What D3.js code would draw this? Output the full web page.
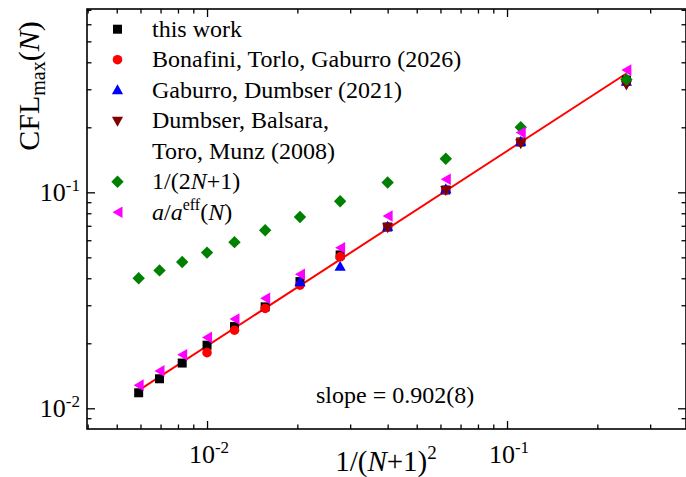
<!DOCTYPE html>
<html>
<head>
<meta charset="utf-8">
<script src="https://cdn.jsdelivr.net/npm/d3@7"></script>
<style>
  body { margin: 0; background: #fff; }
  svg { display: block; font-family: "Liberation Serif", "Times New Roman", serif; }
</style>
</head>
<body>
<svg id="chart" width="686" height="477"></svg>
<script>
// polynomial degree N, x axis is 1/(N+1)^2
var N = [1, 2, 3, 4, 5, 6, 7, 8, 9, 10, 11, 12];

// CFL_max values
var thisWork = [0.331, 0.171, 0.1025, 0.0691, 0.0513, 0.0386, 0.0295, 0.0239, 0.0196, 0.0162, 0.0137, 0.0118];
var bonafini = [0.324, 0.171, 0.1025, 0.0691, 0.0503, 0.0372, 0.0290, 0.0230, 0.0181];
var gaburro = [0.325, 0.1715, 0.1032, 0.0693, 0.0452, 0.0383];
var dumbser = [0.316, 0.1686, 0.1025, 0.0689];
var inv2N1 = [0.333, 0.2, 0.143, 0.111, 0.0909, 0.0769, 0.0667, 0.0588, 0.0526, 0.0476, 0.0435, 0.04];
var aEff = [0.368, 0.189, 0.115, 0.0777, 0.0554, 0.0417, 0.0323, 0.0259, 0.0213, 0.0177, 0.0149, 0.0128];

// fitted power law, end points
var fitX = [1 / 169, 1 / 4];
var fitY = [0.0121, 0.355];

// ticks
var xMajor = [0.01, 0.1];
var xMajorExp = ["-2", "-1"];
var xMinor = [0.004, 0.005, 0.006, 0.007, 0.008, 0.009, 0.02, 0.03, 0.04, 0.05, 0.06, 0.07, 0.08, 0.09, 0.2, 0.3];
var yMajor = [0.01, 0.1];
var yMajorExp = ["-2", "-1"];
var yMinor = [0.009, 0.02, 0.03, 0.04, 0.05, 0.06, 0.07, 0.08, 0.09, 0.2, 0.3, 0.4, 0.5, 0.6, 0.7];

// plot box (window.top is taken, so no plain "top")
var pLeft = 87, pRight = 686, pTop = 9, pBottom = 429;

var svg = d3.select("#chart");

var x = d3.scaleLog().domain([0.00398, 0.395]).range([pLeft, pRight]);
var y = d3.scaleLog().domain([0.00802, 0.706]).range([pBottom, pTop]);

// marker shapes
var shapes = {
    square: "M-4.5,-4.5h9v9h-9Z",
    circle: "M-4.8,0a4.8,4.8 0 1,0 9.6,0a4.8,4.8 0 1,0 -9.6,0Z",
    up: "M0,-6L5.6,4L-5.6,4Z",
    down: "M0,6L5.6,-4L-5.6,-4Z",
    diamond: "M0,-6.2L6.2,0L0,6.2L-6.2,0Z",
    leftTri: "M-5,0L5,-5.8L5,5.8Z"
};

var series = [
    { values: thisWork, shape: "square", color: "#000000" },
    { values: bonafini, shape: "circle", color: "#ff0000" },
    { values: gaburro, shape: "up", color: "#0000ff" },
    { values: dumbser, shape: "down", color: "#800000" },
    { values: inv2N1, shape: "diamond", color: "#008000" },
    { values: aEff, shape: "leftTri", color: "#ff00ff" }
];

// axes, ticks pointing inward on all four sides
function drawTicks(axis, tx, ty) {
    svg.append("g")
        .attr("transform", "translate(" + tx + "," + ty + ")")
        .call(axis)
        .call(function (g) {
            g.select(".domain").remove();
            g.selectAll("line").attr("stroke", "#000").attr("stroke-width", 1.3);
        });
}
drawTicks(d3.axisBottom(x).tickValues(xMajor).tickFormat("").tickSize(-8).tickSizeOuter(0), 0, pBottom);
drawTicks(d3.axisBottom(x).tickValues(xMinor).tickFormat("").tickSize(-4.5).tickSizeOuter(0), 0, pBottom);
drawTicks(d3.axisTop(x).tickValues(xMajor).tickFormat("").tickSize(-8).tickSizeOuter(0), 0, pTop);
drawTicks(d3.axisTop(x).tickValues(xMinor).tickFormat("").tickSize(-4.5).tickSizeOuter(0), 0, pTop);
drawTicks(d3.axisLeft(y).tickValues(yMajor).tickFormat("").tickSize(-8).tickSizeOuter(0), pLeft, 0);
drawTicks(d3.axisLeft(y).tickValues(yMinor).tickFormat("").tickSize(-4.5).tickSizeOuter(0), pLeft, 0);
drawTicks(d3.axisRight(y).tickValues(yMajor).tickFormat("").tickSize(-8).tickSizeOuter(0), pRight, 0);
drawTicks(d3.axisRight(y).tickValues(yMinor).tickFormat("").tickSize(-4.5).tickSizeOuter(0), pRight, 0);

// frame
svg.append("rect")
    .attr("x", pLeft).attr("y", pTop)
    .attr("width", pRight - pLeft).attr("height", pBottom - pTop)
    .attr("fill", "none").attr("stroke", "#000").attr("stroke-width", 1.6);

// tick labels 10^k
xMajor.forEach(function (v, i) {
    var t = svg.append("text")
        .attr("x", x(v) + 2).attr("y", pBottom + 34)
        .attr("text-anchor", "middle")
        .attr("font-size", 26);
    t.append("tspan").text("10");
    t.append("tspan").attr("font-size", 17).attr("dy", -10).text(xMajorExp[i]);
});
yMajor.forEach(function (v, i) {
    var t = svg.append("text")
        .attr("x", pLeft - 7).attr("y", y(v) + 9)
        .attr("text-anchor", "end")
        .attr("font-size", 26);
    t.append("tspan").text("10");
    t.append("tspan").attr("font-size", 17).attr("dy", -10).text(yMajorExp[i]);
});

// axis titles
var xt = svg.append("text")
    .attr("x", 386).attr("y", 471)
    .attr("text-anchor", "middle")
    .attr("font-size", 29);
xt.append("tspan").text("1/(");
xt.append("tspan").attr("font-style", "italic").text("N");
xt.append("tspan").text("+1)");
xt.append("tspan").attr("font-size", 19).attr("dy", -12).text("2");

var yt = svg.append("text")
    .attr("transform", "translate(39,86) rotate(-90)")
    .attr("text-anchor", "middle")
    .attr("font-size", 30);
yt.append("tspan").text("CFL");
yt.append("tspan").attr("font-size", 20).attr("dy", 6).text("max");
yt.append("tspan").attr("dy", -6).text("(");
yt.append("tspan").attr("font-style", "italic").text("N");
yt.append("tspan").text(")");

// fit line
svg.append("path")
    .datum(d3.zip(fitX, fitY))
    .attr("fill", "none")
    .attr("stroke", "#ff0000")
    .attr("stroke-width", 2)
    .attr("d", d3.line().x(function (d) { return x(d[0]); }).y(function (d) { return y(d[1]); }));

// data markers
series.forEach(function (s) {
    svg.append("g").selectAll("path")
        .data(s.values)
        .enter().append("path")
        .attr("d", shapes[s.shape])
        .attr("fill", s.color)
        .attr("transform", function (d, i) {
            var xv = 1 / ((N[i] + 1) * (N[i] + 1));
            return "translate(" + x(xv) + "," + y(d) + ")";
        });
});

// slope label
svg.append("text")
    .attr("x", 316).attr("y", 403)
    .attr("font-size", 24)
    .text("slope = 0.902(8)");

// legend
var legendRows = [
    { shape: "square", color: "#000000", parts: [["this work", ""]] },
    { shape: "circle", color: "#ff0000", parts: [["Bonafini, Torlo, Gaburro (2026)", ""]] },
    { shape: "up", color: "#0000ff", parts: [["Gaburro, Dumbser (2021)", ""]] },
    { shape: "down", color: "#800000", parts: [["Dumbser, Balsara,", ""]] },
    { shape: null, color: null, parts: [["Toro, Munz (2008)", ""]] },
    { shape: "diamond", color: "#008000", parts: [["1/(2", ""], ["N", "i"], ["+1)", ""]] },
    { shape: "leftTri", color: "#ff00ff", parts: [["a", "i"], ["/", ""], ["a", "i"], ["eff", "sup"], ["(", "down"], ["N", "i"], [")", ""]] }
];
legendRows.forEach(function (r, i) {
    var base = 36.7 + i * 30.5;
    if (r.shape) {
        svg.append("path")
            .attr("d", shapes[r.shape])
            .attr("fill", r.color)
            .attr("transform", "translate(117.5," + (base - 7.5) + ")");
    }
    var t = svg.append("text")
        .attr("x", 152).attr("y", base)
        .attr("font-size", 24);
    r.parts.forEach(function (p) {
        var sp = t.append("tspan").text(p[0]);
        if (p[1] === "i") sp.attr("font-style", "italic");
        if (p[1] === "sup") sp.attr("font-size", 16).attr("dy", -10);
        if (p[1] === "down") sp.attr("dy", 10);
    });
});
</script>
</body>
</html>
